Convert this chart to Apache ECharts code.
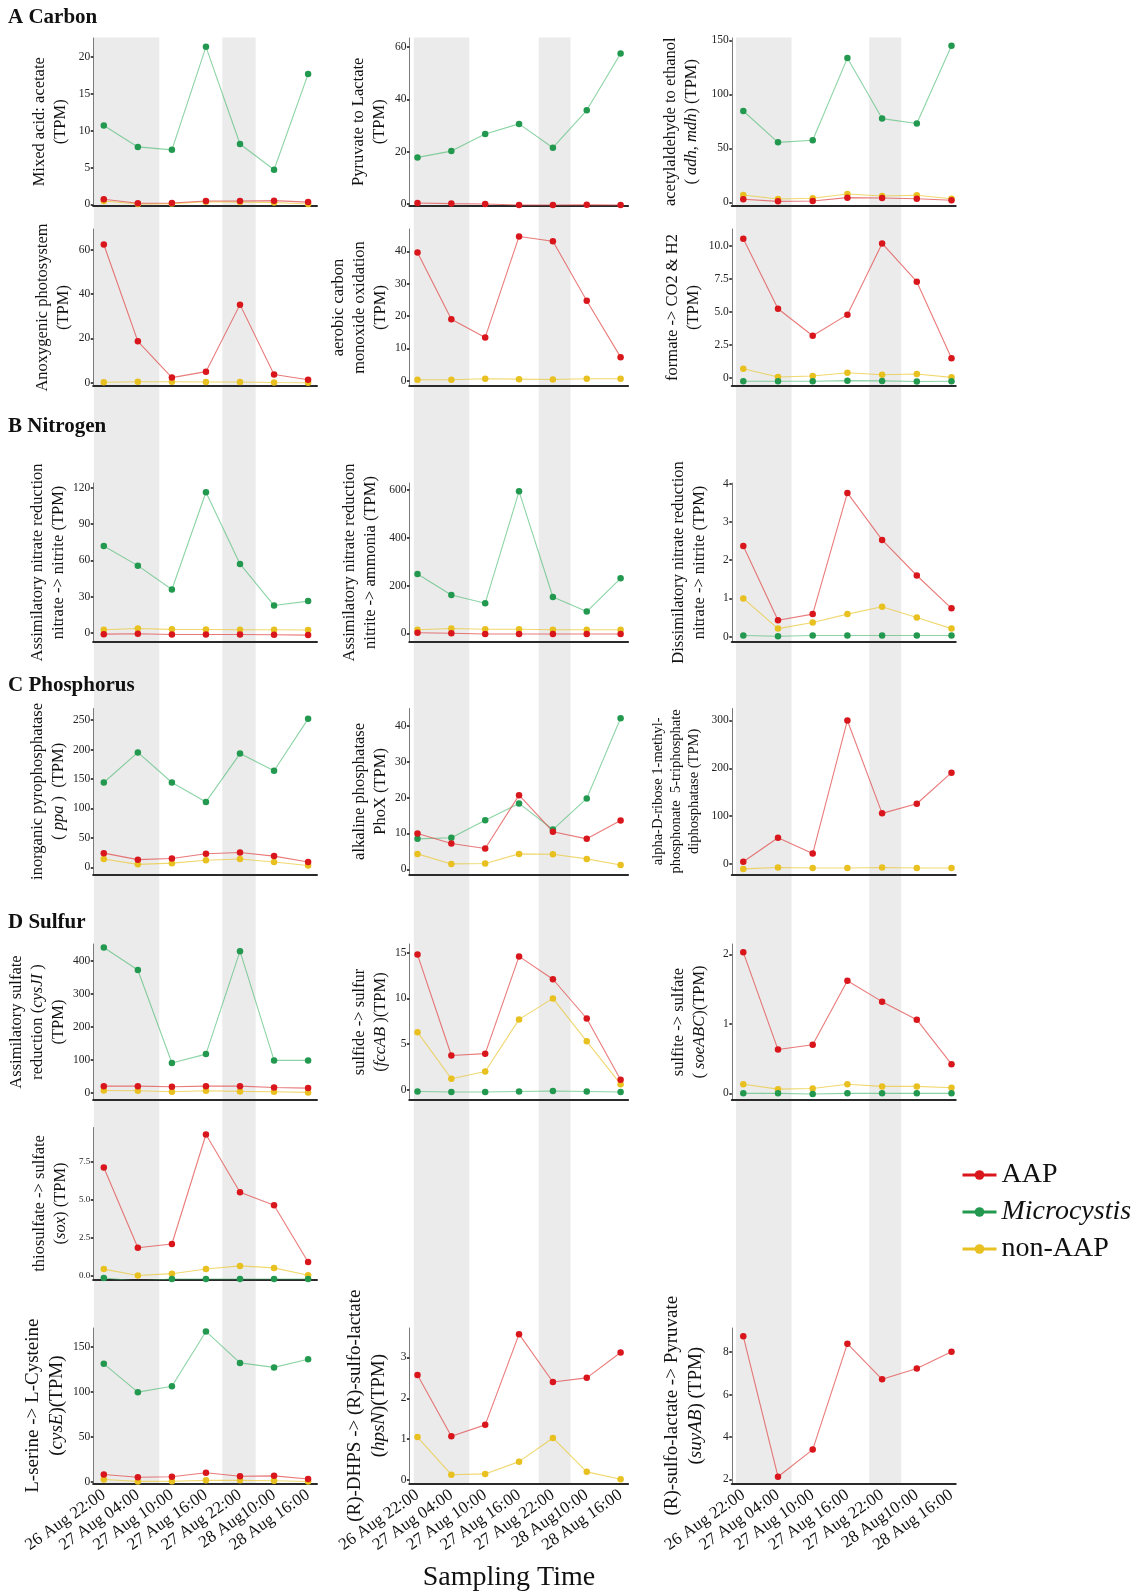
<!DOCTYPE html>
<html><head><meta charset="utf-8">
<script src="https://cdn.jsdelivr.net/npm/echarts@6/dist/echarts.min.js"></script>
<style>html,body{margin:0;padding:0;background:#fff}#chart{width:1138px;height:1596px}</style>
</head><body><div id="chart"></div>
<script>
// ---------- data ----------
const timeLabels = ['26 Aug 22:00','27 Aug 04:00','27 Aug 10:00','27 Aug 16:00','27 Aug 22:00','28 Aug10:00','28 Aug 16:00'];
// night shading, in sampling-index units, one set per column
const nightBandsCol1 = [[-0.29,1.63],[3.48,4.46]];
const nightBandsCol2 = [[-0.11,1.53],[3.58,4.52]];
const nightBandsCol3 = [[-0.21,1.39],[3.63,4.55]];

// A Carbon
const acetateAAP   = [0.68,0.14,0.18,0.45,0.45,0.50,0.30];
const acetateMicro = [10.7,7.8,7.4,21.4,8.2,4.7,17.7];
const acetateNon   = [0.45,0.05,0.10,0.35,0.30,0.25,0.05];
const lactateAAP   = [0.4,0.15,0.0,-0.4,-0.4,-0.3,-0.4];
const lactateMicro = [17.8,20.2,26.7,30.6,21.5,35.8,57.5];
const ethanolAAP   = [2.8,0.9,1.2,4.3,4.0,3.3,1.9];
const ethanolMicro = [84.5,55.5,57.5,133.5,77.5,73,145];
const ethanolNon   = [6.8,3.1,3.7,7.7,5.8,6.5,3.3];
const anoxyAAP     = [62.5,18.7,2.3,5.0,35.3,3.7,1.3];
const anoxyNon     = [0.2,0.4,0.4,0.3,0.3,0.1,0.0];
const coAAP        = [39.6,19.0,13.4,44.6,43.1,24.7,7.3];
const coNon        = [0.3,0.3,0.6,0.5,0.4,0.6,0.6];
const formateAAP   = [10.55,5.25,3.2,4.8,10.2,7.3,1.5];
const formateMicro = [-0.25,-0.25,-0.25,-0.2,-0.22,-0.27,-0.25];
const formateNon   = [0.7,0.08,0.15,0.4,0.25,0.3,0.05];
// B Nitrogen
const narAAP   = [-1.2,-0.9,-1.5,-1.5,-1.5,-1.7,-2.0];
const narMicro = [71.8,55.6,35.8,116.4,57,22.5,26.2];
const narNon   = [2.5,3.5,2.8,2.7,2.5,2.5,2.3];
const nirAAP   = [2,0,-3,-3,-3,-3,-3];
const nirMicro = [248,160,126,594,152,91,230];
const nirNon   = [15,20,17,17,15,15,15];
const dnrAAP   = [2.37,0.43,0.59,3.76,2.53,1.6,0.74];
const dnrMicro = [0.03,0.01,0.03,0.03,0.03,0.03,0.03];
const dnrNon   = [1.0,0.21,0.37,0.59,0.78,0.5,0.21];
// C Phosphorus
const ppaAAP    = [24,13,15,23,25,19,9];
const ppaMicro  = [144,195,144,111,193,164,252];
const ppaNon    = [14,5,7,12,14,9,3];
const phoxAAP   = [10,7.2,5.8,20.7,10.5,8.5,13.6];
const phoxMicro = [8.5,8.8,13.7,18.4,11.1,19.8,42.2];
const phoxNon   = [4.3,1.5,1.6,4.3,4.2,2.9,1.2];
const phnAAP    = [5,55,22,300,106,126,191];
const phnNon    = [-10,-7,-8,-8,-7,-8,-8];
// D Sulfur
const cysjiAAP   = [20,20,18,20,20,16,14];
const cysjiMicro = [440,372,90,117,429,98,98];
const cysjiNon   = [7,6,3,6,4,3,1];
const fccAAP     = [14.8,3.75,3.95,14.6,12.1,7.8,1.1];
const fccMicro   = [-0.2,-0.25,-0.25,-0.2,-0.15,-0.2,-0.25];
const fccNon     = [6.3,1.2,2.0,7.7,10.0,5.3,0.6];
const soeAAP     = [2.03,0.63,0.70,1.62,1.32,1.06,0.42];
const soeMicro   = [0,0,-0.01,0,0,0,0];
const soeNon     = [0.13,0.06,0.07,0.13,0.1,0.1,0.08];
const soxAAP     = [7.13,1.85,2.1,9.3,5.5,4.65,0.92];
const soxMicro   = [-0.13,-0.33,-0.2,-0.2,-0.2,-0.2,-0.2];
const soxNon     = [0.45,0.03,0.15,0.46,0.66,0.53,0.05];
const cyseAAP    = [8,5,5.5,10,6,6.5,3];
const cyseMicro  = [131,99.5,106,167,132,127,136];
const cyseNon    = [2.5,0.3,0.5,1.5,1.5,1,0.2];
const hpsnAAP    = [2.57,1.07,1.35,3.57,2.4,2.5,3.12];
const hpsnNon    = [1.05,0.13,0.15,0.45,1.03,0.2,0.02];
const suyAAP     = [8.75,2.12,3.4,8.4,6.72,7.23,8.02];

const seriesNames = ['AAP','Microcystis','non-AAP'];

// ---------- layout ----------
const FONT = 'Liberation Serif';
const colLayout = [
  {x0:103.8, step:34.05, xMin:-0.31, xMax:6.26, bands:nightBandsCol1},
  {x0:417.5, step:33.85, xMin:-0.24, xMax:6.22, bands:nightBandsCol2},
  {x0:743.3, step:34.7,  xMin:-0.33, xMax:6.12, bands:nightBandsCol3}
];
const rowLayout = [
  {top:38,    bottom:205.5},
  {top:229,   bottom:386},
  {top:483,   bottom:642},
  {top:708.5, bottom:874.3},
  {top:944,   bottom:1100},
  {top:1127.5,bottom:1279.3},
  {top:1328,  bottom:1483.3}
];
const bandTop = 37.5, bandBottom = 1483.3;

const panels = [
  {r:0,c:0,name:'Mixed acid: acetate\n(TPM)', yr:[-0.16,22.6], ticks:[0,5,10,15,20], s:[acetateAAP,acetateMicro,acetateNon], gap:22},
  {r:0,c:1,name:'Pyruvate to Lactate\n(TPM)', yr:[-0.57,63.4], ticks:[0,20,40,60], s:[lactateAAP,lactateMicro,null], gap:19},
  {r:0,c:2,name:'acetylaldehyde to ethanol\n( {i|adh}, {i|mdh}) (TPM)', yr:[-2.96,152.1], ticks:[0,50,100,150], s:[ethanolAAP,ethanolMicro,ethanolNon], gap:30},
  {r:1,c:0,name:'Anoxygenic photosystem\n(TPM)', yr:[-1.5,69.5], ticks:[0,20,40,60], s:[anoxyAAP,null,anoxyNon], gap:19},
  {r:1,c:1,name:'aerobic carbon\nmonoxide oxidation\n(TPM)', yr:[-1.62,46.9], ticks:[0,10,20,30,40], s:[coAAP,null,coNon], gap:16},
  {r:1,c:2,name:'formate -> CO2 & H2\n(TPM)', yr:[-0.606,11.29], ticks:[0,2.5,5,7.5,10], labels:['0','2.5','5.0','7.5','10.0'], s:[formateAAP,formateMicro,formateNon], gap:28},
  {r:2,c:0,name:'Assimilatory nitrate reduction\nnitrate -> nitrite (TPM)', yr:[-7.7,124.1], ticks:[0,30,60,90,120], s:[narAAP,narMicro,narNon], gap:22},
  {r:2,c:1,name:'Assimilatory nitrate reduction\nnitrite -> ammonia (TPM)', yr:[-36.4,629], ticks:[0,200,400,600], s:[nirAAP,nirMicro,nirNon], gap:28},
  {r:2,c:2,name:'Dissimilatory nitrate reduction\nnitrate -> nitrite (TPM)', yr:[-0.14,4.02], ticks:[0,1,2,3,4], s:[dnrAAP,dnrMicro,dnrNon], gap:22},
  {r:3,c:0,name:'inorganic pyrophosphatase\n( {i|ppa} )  (TPM)', yr:[-11.9,269.6], ticks:[0,50,100,150,200,250], s:[ppaAAP,ppaMicro,ppaNon], gap:16},
  {r:3,c:1,name:'alkaline phosphatase\nPhoX (TPM)', yr:[-1.4,44.9], ticks:[0,10,20,30,40], s:[phoxAAP,phoxMicro,phoxNon], gap:14},
  {r:3,c:2,name:'alpha-D-ribose 1-methyl-\nphosphonate  5-triphosphate\ndiphosphatase (TPM)', yr:[-21.3,325], ticks:[0,100,200,300], s:[phnAAP,null,phnNon], gap:29, fs:14.5},
  {r:4,c:0,name:'Assimilatory sulfate\nreduction ({i|cysJI} )\n(TPM)', yr:[-22,450.6], ticks:[0,100,200,300,400], s:[cysjiAAP,cysjiMicro,cysjiNon], gap:22},
  {r:4,c:1,name:'sulfide -> sulfur\n({i|fccAB} )(TPM)', yr:[-1.13,15.96], ticks:[0,5,10,15], s:[fccAAP,fccMicro,fccNon], gap:18},
  {r:4,c:2,name:'sulfite -> sulfate\n( {i|soeABC})(TPM)', yr:[-0.096,2.15], ticks:[0,1,2], s:[soeAAP,soeMicro,soeNon], gap:22},
  {r:5,c:0,name:'thiosulfate -> sulfate\n({i|sox}) (TPM)', yr:[-0.22,9.76], ticks:[0,2.5,5,7.5], labels:['0.0','2.5','5.0','7.5'], s:[soxAAP,soxMicro,soxNon], gap:22, tfs:9},
  {r:6,c:0,name:'L-serine -> L-Cysteine\n({i|cysE})(TPM)', yr:[-1.8,170.8], ticks:[0,50,100,150], s:[cyseAAP,cyseMicro,cyseNon], gap:23, fs:19},
  {r:6,c:1,name:'(R)-DHPS -> (R)-sulfo-lactate\n({i|hpsN})(TPM)', yr:[-0.08,3.72], ticks:[0,1,2,3], s:[hpsnAAP,null,hpsnNon], gap:18, fs:19},
  {r:6,c:2,name:'(R)-sulfo-lactate -> Pyruvate\n({i|suyAB}) (TPM)', yr:[1.81,9.14], ticks:[2,4,6,8], s:[suyAAP,null,null], gap:24, fs:19}
];

const pointColor = {'AAP':'#d9161c','Microcystis':'#22994f','non-AAP':'#e8c020'};
const lineColor  = {'AAP':'rgba(226,70,70,0.72)','Microcystis':'rgba(70,185,110,0.62)','non-AAP':'rgba(234,200,50,0.7)'};

// ---------- build option ----------
const grid = [], xAxis = [], yAxis = [], series = [];

colLayout.forEach((col, ci) => {
  grid.push({left: col.x0 + col.xMin*col.step, width: (col.xMax-col.xMin)*col.step, top: bandTop, height: bandBottom-bandTop});
  xAxis.push({type:'value', gridIndex: ci, min: col.xMin, max: col.xMax, show:false});
  yAxis.push({type:'value', gridIndex: ci, min: 0, max: 1, show:false});
  series.push({
    type:'custom', xAxisIndex: ci, yAxisIndex: ci, silent:true, z:0,
    data: col.bands, encode:{x:[0,1]},
    renderItem: (params, api) => {
      const p0 = api.coord([api.value(0), 1]);
      const p1 = api.coord([api.value(1), 0]);
      return {type:'rect', shape:{x:p0[0], y:p0[1], width:p1[0]-p0[0], height:p1[1]-p0[1]}, style:{fill:'#ebebeb'}};
    }
  });
});

panels.forEach((p) => {
  const col = colLayout[p.c], row = rowLayout[p.r];
  const gi = grid.length;
  const fs = p.fs || 16.5;
  const lh = Math.round(fs*1.25);
  grid.push({left: col.x0 + col.xMin*col.step, width: (col.xMax-col.xMin)*col.step, top: row.top, height: row.bottom-row.top});
  const isBottom = p.r === 6;
  xAxis.push({
    type:'value', gridIndex: gi, min: col.xMin, max: col.xMax,
    axisLine:{show:true, onZero:false, lineStyle:{color:'#2a2a2a', width:2.2}},
    axisTick:{show:false}, splitLine:{show:false},
    axisLabel: isBottom ? {
      show:true, customValues:[0,1,2,3,4,5,6], formatter: v => timeLabels[Math.round(v)],
      rotate:35, fontFamily:FONT, fontSize:17, color:'#111', margin:10, hideOverlap:false
    } : {show:false}
  });
  const tickLab = (v) => {
    const k = p.ticks.findIndex(t => Math.abs(t - v) < 1e-9);
    return (p.labels && k >= 0) ? p.labels[k] : String(v);
  };
  yAxis.push({
    type:'value', gridIndex: gi, min: p.yr[0], max: p.yr[1],
    axisLine:{show:true, onZero:false, lineStyle:{color:'#7a7a7a', width:1}},
    axisTick:{show:true, length:2.5, customValues:p.ticks, lineStyle:{color:'#111', width:1.5}},
    axisLabel:{show:true, customValues:p.ticks, formatter: tickLab, fontFamily:FONT, fontSize:p.tfs || 11.5, color:'#222', margin:3},
    splitLine:{show:false},
    name: p.name, nameLocation:'middle', nameGap: p.gap,
    nameTextStyle:{fontFamily:FONT, fontSize:fs, lineHeight:lh, color:'#111',
      rich:{i:{fontFamily:FONT, fontStyle:'italic', fontSize:fs, lineHeight:lh, color:'#111'}}}
  });
  // draw order: non-AAP, Microcystis, AAP on top
  [2,1,0].forEach(k => {
    const vals = p.s[k];
    if (!vals) return;
    const nm = seriesNames[k];
    series.push({
      type:'line', name: nm, xAxisIndex: gi, yAxisIndex: gi,
      data: vals.map((v,i) => [i, v]),
      symbol:'circle', symbolSize:6.5, showSymbol:true,
      itemStyle:{color: pointColor[nm]},
      lineStyle:{color: lineColor[nm], width:1.1},
      emphasis:{disabled:true}, z:3
    });
  });
});

const option = {
  backgroundColor:'#ffffff',
  animation:false,
  title:[
    {text:'A Carbon', left:8, top:7},
    {text:'B Nitrogen', left:8, top:416},
    {text:'C Phosphorus', left:8, top:675},
    {text:'D Sulfur', left:8, top:912}
  ].map(t => Object.assign(t, {padding:0, textStyle:{fontFamily:FONT, fontWeight:'bold', fontSize:21, color:'#111'}})),
  legend:{
    orient:'vertical', left:956, top:1155, itemWidth:34, itemHeight:12, itemGap:7,
    data: seriesNames.map(n => ({name:n, itemStyle:{color:pointColor[n]}, lineStyle:{color:pointColor[n], width:3, opacity:1}})),
    formatter: n => n === 'Microcystis' ? '{it|Microcystis}' : n,
    textStyle:{fontFamily:FONT, fontSize:28, lineHeight:30, color:'#111',
      rich:{it:{fontFamily:FONT, fontStyle:'italic', fontSize:28, lineHeight:30, color:'#111'}}}
  },
  graphic:[{type:'text', x:509, y:1578, style:{text:'Sampling Time', font:'28px "Liberation Serif"', fill:'#111', textAlign:'center', textVerticalAlign:'middle'}}],
  grid, xAxis, yAxis, series
};

const chart = echarts.init(document.getElementById('chart'), null, {renderer:'canvas'});
chart.setOption(option);
</script></body></html>
